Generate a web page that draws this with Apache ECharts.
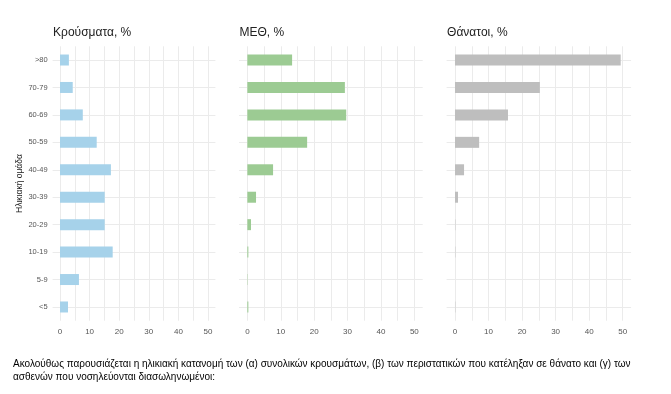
<!DOCTYPE html>
<html><head><meta charset="utf-8">
<script src="https://cdn.jsdelivr.net/npm/echarts@6/dist/echarts.min.js"></script>
<style>html,body{margin:0;padding:0;background:#fff;}#c{width:671px;height:394px;}</style>
</head><body><div id="c"></div>
<script>
const categories = ['<5','5-9','10-19','20-29','30-39','40-49','50-59','60-69','70-79','>80'];
const cases = [2.7, 6.4, 17.8, 15.1, 15.1, 17.2, 12.4, 7.7, 4.3, 3.0];
const icu = [0.3, 0.1, 0.3, 1.1, 2.6, 7.7, 17.9, 29.6, 29.2, 13.4];
const deaths = [0.1, 0.0, 0.1, 0.1, 0.9, 2.7, 7.2, 15.8, 25.3, 49.4];
const panelTitles = ['Κρούσματα, %', 'ΜΕΘ, %', 'Θάνατοι, %'];
const yAxisTitle = 'Ηλικιακή ομάδα';
const xTickValues = [0, 10, 20, 30, 40, 50];
const caption = ['Ακολούθως παρουσιάζεται η ηλικιακή κατανομή των (α) συνολικών κρουσμάτων, (β) των περιστατικών που κατέληξαν σε θάνατο και (γ) των',
                 'ασθενών που νοσηλεύονται διασωληνωμένοι:'];

const seriesData = [cases, icu, deaths];
const colors = ['#a6d2ea', '#9ccb93', '#bebebe'];
const grids = [
  {left: 52.6, width: 162.8},
  {left: 239, width: 183.7},
  {left: 446.6, width: 184.5}
];
const gridTop = 46.3, gridHeight = 274.4;
const font = 'Liberation Sans, Arial, sans-serif';

const chart = echarts.init(document.getElementById('c'), null, {renderer: 'canvas'});
const option = {
  animation: false,
  grid: grids.map(g => ({left: g.left, width: g.width, top: gridTop, height: gridHeight, containLabel: false})),
  xAxis: grids.map((g, i) => ({
    gridIndex: i, type: 'value', min: -2.5, max: 52.5, interval: 2.5,
    axisLine: {show: false}, axisTick: {show: false},
    axisLabel: {
      show: true, margin: 7, fontSize: 8, color: '#555', fontFamily: font,
      showMinLabel: true, showMaxLabel: true, hideOverlap: false,
      formatter: v => (xTickValues.indexOf(Math.round(v * 100) / 100) >= 0 ? String(Math.round(v)) : '')
    },
    splitLine: {show: true, lineStyle: {color: ['rgba(0,0,0,0)', '#ebebeb'], width: 1}}
  })),
  yAxis: grids.map((g, i) => ({
    gridIndex: i, type: 'category', data: categories,
    axisLine: {show: false}, axisTick: {show: false},
    axisLabel: {show: i === 0, fontSize: 7.5, color: '#555', margin: 5, fontFamily: font, interval: 0},
    splitLine: {show: true, alignWithLabel: true, interval: 0, lineStyle: {color: '#ebebeb', width: 1}},
    name: i === 0 ? yAxisTitle : '',
    nameLocation: 'middle', nameGap: 28, nameRotate: 90,
    nameTextStyle: {fontSize: 8.5, color: '#222', fontFamily: font}
  })),
  series: seriesData.map((d, i) => ({
    type: 'bar', xAxisIndex: i, yAxisIndex: i, data: d,
    barWidth: 11, itemStyle: {color: colors[i]}, silent: true
  })),
  graphic: [
    ...panelTitles.map((t, i) => ({
      type: 'text', left: grids[i].left + 0.5, top: 27,
      style: {text: t, fontSize: 12, fill: '#222', fontFamily: font}
    })),
    ...caption.map((t, i) => ({
      type: 'text', left: 13, top: 359.5 + i * 13,
      style: {text: t, fontSize: 10, fill: '#000', fontFamily: font}
    }))
  ]
};
chart.setOption(option);
</script>
</body></html>
